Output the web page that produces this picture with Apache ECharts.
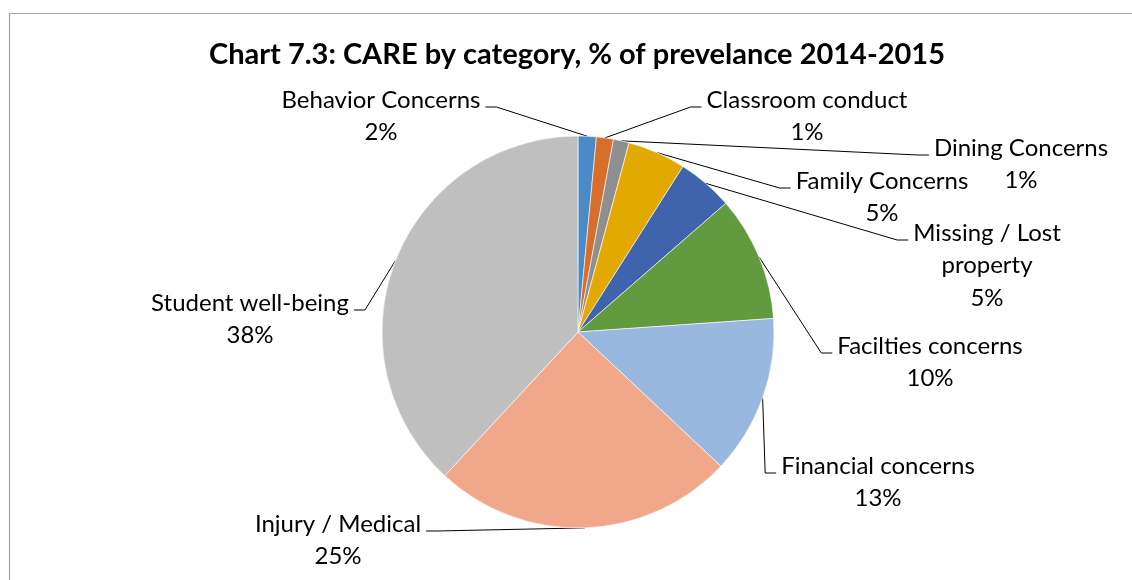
<!DOCTYPE html>
<html>
<head>
<meta charset="utf-8">
<script src="https://cdn.jsdelivr.net/npm/echarts@6/dist/echarts.min.js"></script>
<style>
  html, body { margin: 0; padding: 0; background: #fff; }
  #chart { width: 1132px; height: 580px; }
</style>
</head>
<body>
<div id="chart"></div>
<script>
// ---- data ----
const titleText = 'Chart 7.3: CARE by category, % of prevelance 2014-2015';
const categories = [
  'Behavior Concerns', 'Classroom conduct', 'Dining Concerns', 'Family Concerns',
  'Missing / Lost property', 'Facilties concerns', 'Financial concerns',
  'Injury / Medical', 'Student well-being'
];
const values = [1.5, 1.4, 1.3, 4.8, 4.6, 10.3, 13.1, 24.9, 38.1];
const colors = ['#4A8AC6', '#D56F2B', '#8F8F8F', '#E2AA00', '#3F64AD', '#629A3F', '#98B8E0', '#F1A88A', '#BFBFBF'];

// ---- label layout (center x of text block, first-line center y, side the leader attaches to) ----
const labelAnchors = [
  [381, 100, 'right'],
  [807, 100, 'left'],
  [1021, 148, 'left'],
  [882, 181, 'left'],
  [987, 233, 'left'],
  [930, 346, 'left'],
  [878, 466, 'left'],
  [338, 524, 'right'],
  [250, 303, 'right']
];
const LH = 32.5;      // label line height
const GAP = 5;        // gap text -> leader end
const TAIL = 11;      // horizontal leader tail
const DROP = 7;       // leader end below first-line center

const chart = echarts.init(document.getElementById('chart'), null, { renderer: 'canvas' });

const option = {
  animation: false,
  backgroundColor: '#fff',
  graphic: [
    {
      type: 'rect',
      shape: { x: 9.5, y: 13.5, width: 1300, height: 800 },
      style: { fill: 'none', stroke: '#A6A6A6', lineWidth: 1.2 },
      silent: true
    },
    {
      type: 'text',
      style: {
        x: 577, y: 55,
        text: titleText,
        font: 'bold 29px Lato',
        fill: '#000',
        align: 'center',
        verticalAlign: 'middle'
      },
      silent: true
    }
  ],
  series: [{
    type: 'pie',
    center: [578, 332],
    radius: 196,
    startAngle: 90,
    clockwise: true,
    avoidLabelOverlap: false,
    itemStyle: { borderColor: '#fff', borderWidth: 0.6 },
    label: {
      show: true,
      position: 'outside',
      fontFamily: 'Lato',
      fontSize: 24,
      color: '#000',
      lineHeight: LH,
      align: 'center',
      formatter: function (p) {
        return p.name.replace('Lost ', 'Lost\n') + '\n' + Math.round(p.percent) + '%';
      }
    },
    labelLine: {
      show: true,
      length: 10,
      length2: 10,
      smooth: false,
      lineStyle: { color: '#000', width: 1 }
    },
    labelLayout: function (params) {
      const a = labelAnchors[params.dataIndex];
      const w = params.labelRect.width;
      const side = a[2];
      const ly = a[1] + DROP;
      const edgeX = side === 'left' ? a[0] - w / 2 - GAP : a[0] + w / 2 + GAP;
      const tailX = side === 'left' ? edgeX - TAIL : edgeX + TAIL;
      const p0 = params.labelLinePoints ? params.labelLinePoints[0] : [tailX, ly];
      return {
        x: a[0],
        y: a[1] - LH / 2,
        align: 'center',
        verticalAlign: 'top',
        labelLinePoints: [p0, [tailX, ly], [edgeX, ly]]
      };
    },
    data: categories.map(function (c, i) {
      return { name: c, value: values[i], itemStyle: { color: colors[i] } };
    })
  }]
};
chart.setOption(option);
</script>
</body>
</html>
